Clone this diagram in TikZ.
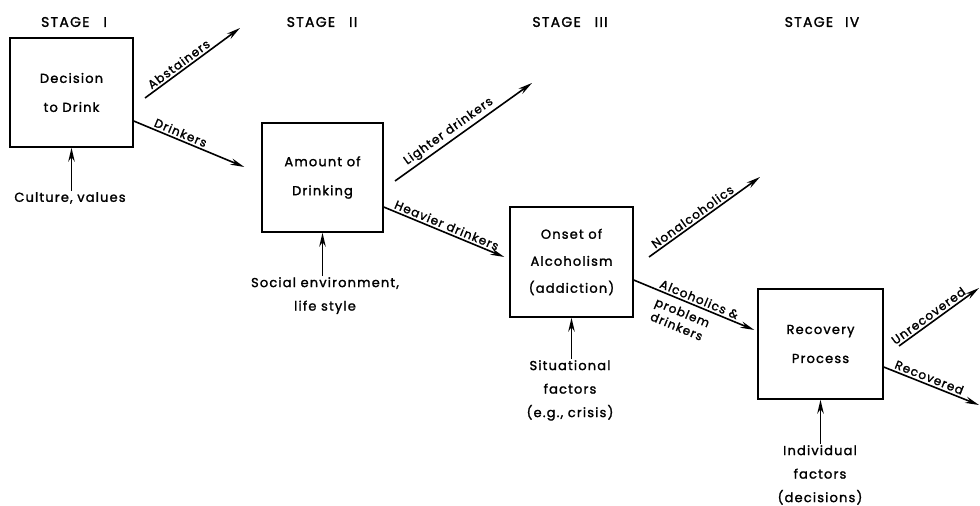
\documentclass[tikz,border=0pt]{standalone}
\usepackage{fontspec}
\setmainfont{Poppins}[LetterSpace=9, FakeBold=1.6]
\usetikzlibrary{arrows.meta}
\begin{document}
\begin{tikzpicture}[x=1pt,y=-1pt,
  box/.style={draw, line width=1.4pt, inner sep=0pt, align=center,
    font=\fontsize{13}{29}\selectfont},
  arr/.style={line width=1.6pt, -{Stealth[length=14pt,width=6.5pt]}},
  lab/.style={font=\fontsize{12}{14}\selectfont, sloped, above=1pt, inner sep=1pt},
  txt/.style={font=\fontsize{13}{23.5}\selectfont, align=center, inner sep=1pt, anchor=north},
  stage/.style={font=\fontsize{14}{16}\selectfont}]
\useasboundingbox (0,0) rectangle (980,506);
% stage headings
\node[stage] (s1) at (74,22) {STAGE\hspace{14pt}I};
\node[stage] (s2) at (322,22) {STAGE\hspace{14pt}II};
\node[stage] (s3) at (570,22) {STAGE\hspace{14pt}III};
\node[stage] (s4) at (822,22) {STAGE\hspace{12pt}IV};
% boxes
\node[box, minimum width=123pt, minimum height=109pt] (b1) at (71.5,92.5) {Decision\\to Drink};
\node[box, minimum width=121pt, minimum height=109pt] (b2) at (322.5,177.5) {Amount of\\Drinking};
\node[box, minimum width=123pt, minimum height=110pt, font=\fontsize{13}{27}\selectfont] (b3) at (571.5,262) {Onset of\\Alcoholism\\(addiction)};
\node[box, minimum width=125pt, minimum height=110pt] (b4) at (820.5,344) {Recovery\\Process};
% free ends
\coordinate (abS) at (145,98);  \coordinate (abE) at (240,28);
\coordinate (liS) at (395,181); \coordinate (liE) at (532,83);
\coordinate (noS) at (649,257); \coordinate (noE) at (760,177);
\coordinate (unS) at (899,346); \coordinate (unE) at (979,288);
\coordinate (reE) at (979,405);
% outgoing arrows
\draw[arr] (abS) -- node[lab, pos=0.4] {Abstainers} (abE);
\draw[arr] ([yshift=-28.5pt]b1.east) -- node[lab, pos=0.4] {Drinkers} ([xshift=-17pt,yshift=10.5pt]b2.west);
\draw[arr] (liS) -- node[lab, pos=0.43] {Lighter drinkers} (liE);
\draw[arr] ([yshift=-29.5pt]b2.east) -- node[lab, pos=0.5] {Heavier drinkers} ([xshift=-5pt,yshift=5pt]b3.west);
\draw[arr] (noS) -- node[lab, pos=0.43] {Nonalcoholics} (noE);
\draw[arr] ([yshift=-18pt]b3.east) -- node[lab, pos=0.52] {Alcoholics \&}
  node[lab, below=6pt, pos=0.44, align=center, font=\fontsize{12}{15}\selectfont] {problem\\drinkers} ([xshift=-3pt,yshift=14pt]b4.west);
\draw[arr] (unS) -- node[lab, pos=0.42] {Unrecovered} (unE);
\draw[arr] ([yshift=-23pt]b4.east) -- node[lab, pos=0.45] {Recovered} (reE);
% influences
\node[txt] (t1) at (70,191) {Culture, values};
\node[txt] (t2) at (325,276) {Social environment,\\life style};
\node[txt] (t3) at (570,359) {Situational\\factors\\(e.g., crisis)};
\node[txt] (t4) at (820,444) {Individual\\factors\\(decisions)};
\draw[arr] (t1.north -| b1.south) -- (b1.south);
\draw[arr] (t2.north -| b2.south) -- (b2.south);
\draw[arr] (t3.north -| b3.south) -- (b3.south);
\draw[arr] (t4.north -| b4.south) -- (b4.south);
\end{tikzpicture}
\end{document}
